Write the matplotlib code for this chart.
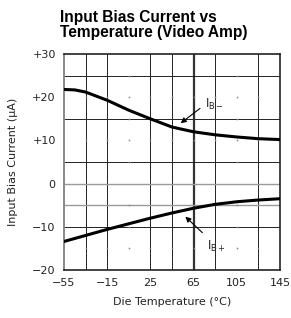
import matplotlib.pyplot as plt
import numpy as np

# data
temp = [-55, -45, -35, -15, 5, 25, 45, 65, 85, 105, 125, 145]
ib_minus = [21.8, 21.7, 21.2, 19.3, 17.0, 15.0, 13.1, 12.0, 11.3, 10.8, 10.4, 10.2]
ib_plus = [-13.4, -12.7, -12.0, -10.6, -9.3, -8.0, -6.8, -5.7, -4.8, -4.2, -3.8, -3.5]

xticks = [-55, -15, 25, 65, 105, 145]
yticks = [30, 20, 10, 0, -10, -20]
ytick_labels = ['+30', '+20', '+10', '0', '\u221210', '\u221220']
xtick_labels = ['\u221255', '\u221215', '25', '65', '105', '145']

vgrid = [-35, -15, 25, 45, 85, 125]
hgrid = [25, 15, 5, -10]
hgrid_gray = [0, -5]
dot_x = [-35, -15, 5, 25, 45, 65, 85, 105, 125]
dot_y = [20, 10, -15]

fig = plt.figure(figsize=(2.91, 3.18), dpi=100)
ax = fig.add_axes([0.22, 0.151, 0.742, 0.679])

for x in vgrid:
    ax.axvline(x, color='#222222', lw=0.7, zorder=1)
ax.axvline(65, color='#333333', lw=1.6, zorder=1)
for y in hgrid:
    ax.axhline(y, color='#222222', lw=0.7, zorder=1)
for y in hgrid_gray:
    ax.axhline(y, color='#999999', lw=1.0, zorder=1)

# small dots where grid lines are missing
for x in dot_x:
    for y in dot_y:
        ax.plot(x, y, 's', ms=1.1, mew=0, color='#888888', zorder=1)
for x in [5, 105]:
    for y in [25, 15, 5, -5, -10]:
        ax.plot(x, y, 's', ms=1.1, mew=0, color='#888888', zorder=1)

ax.plot(temp, ib_minus, color='black', lw=2.2, zorder=3)
ax.plot(temp, ib_plus, color='black', lw=2.2, zorder=3)

ax.annotate('', xy=(51, 13.6), xytext=(73, 17.8),
            arrowprops=dict(arrowstyle='-|>', color='black', lw=0.8,
                            mutation_scale=8))
ax.text(76, 18.4, '$\\mathregular{I_{B-}}$', fontsize=8.5, ha='left', va='center',
        color='#222222')
ax.annotate('', xy=(55.5, -7.2), xytext=(75, -11.8),
            arrowprops=dict(arrowstyle='-|>', color='black', lw=0.8,
                            mutation_scale=8))
ax.text(77, -14.6, '$\\mathregular{I_{B+}}$', fontsize=8.5, ha='left', va='center',
        color='#222222')

ax.set_xlim(-55, 145)
ax.set_ylim(-20, 30)
ax.set_xticks(xticks)
ax.set_xticklabels(xtick_labels)
ax.set_yticks(yticks)
ax.set_yticklabels(ytick_labels)
ax.tick_params(length=0, labelsize=8, pad=6, colors='#222222')

for s in ['top', 'right', 'bottom']:
    ax.spines[s].set_linewidth(1.2)
    ax.spines[s].set_color('#222222')
ax.spines['left'].set_linewidth(1.4)
ax.spines['left'].set_color('#888888')

ax.set_xlabel('Die Temperature (\u00b0C)', fontsize=8, labelpad=6, color='#222222')
ax.set_ylabel('Input Bias Current (\u03bcA)', fontsize=8, labelpad=10, color='#222222')

fig.text(0.205, 0.968, 'Input Bias Current vs\nTemperature (Video Amp)',
         family='Liberation Sans', fontweight='bold', fontsize=11.2,
         ha='left', va='top', linespacing=1.0)

fig.savefig('out.png', dpi=100)
